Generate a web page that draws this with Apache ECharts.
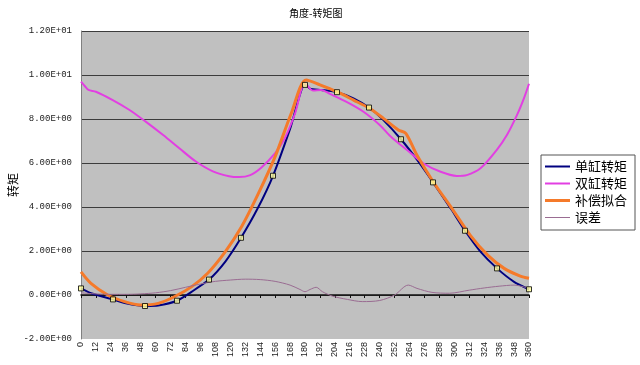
<!DOCTYPE html>
<html><head><meta charset="utf-8">
<script src="https://cdn.jsdelivr.net/npm/echarts@6/dist/echarts.min.js"></script>
<style>html,body{margin:0;padding:0;background:#fff}#c{width:640px;height:365px}</style>
</head><body><div id="c"></div>
<script>
// 单缸转矩 line (sampled along the curve)
const singleAngles = [0,8,25.7,36,51.4,62,77.1,89,102.9,116,128.6,142,154.3,168,180,184,193,205.7,219,231.4,243,257.1,270,282.9,297,308.6,321,334.3,348,360];
const singleTorque = [0.30,0.08,-0.20,-0.38,-0.50,-0.48,-0.26,0.15,0.70,1.52,2.60,3.94,5.42,7.55,9.60,9.38,9.32,9.22,8.94,8.52,7.95,7.08,6.15,5.12,3.94,2.92,1.97,1.21,0.60,0.26];
// 单缸转矩 markers
const markerAngles = [0,25.71,51.43,77.14,102.86,128.57,154.29,180,205.71,231.43,257.14,282.86,308.57,334.29,360];
const markerTorque = [0.30,-0.20,-0.50,-0.26,0.70,2.60,5.42,9.55,9.22,8.52,7.08,5.12,2.92,1.21,0.26];
// 双缸转矩
const doubleAngles = [0,3,6,12,25.5,39,52,66,79,92,106,119,127,136,145,156,164,172,180,186.6,193,200,213,227,240,248,254,262,275,289,302,310,321,334,342.5,350.5,356,360];
const doubleTorque = [9.70,9.50,9.32,9.24,8.86,8.41,7.88,7.27,6.67,6.08,5.62,5.40,5.36,5.45,5.80,6.45,7.15,8.25,9.62,9.29,9.32,9.14,8.79,8.33,7.73,7.25,6.95,6.59,5.99,5.60,5.41,5.45,5.76,6.59,7.30,8.20,8.95,9.60];
// 补偿拟合
const fitAngles = [0,8,21.5,35,48,62,75,89,102,116,129,142,156,169,181,192,205.5,219,232,243,255,261,270,283,298,313,327,340,353,360];
const fitTorque = [1.05,0.53,0.00,-0.30,-0.45,-0.38,-0.08,0.38,1.00,1.97,3.10,4.55,6.29,8.26,9.77,9.55,9.24,8.86,8.48,8.03,7.50,7.35,6.35,5.15,3.94,2.70,1.80,1.21,0.86,0.76];
// 误差
const errorAngles = [0,12,24,36,48,60,72,84,96,108,120,132,144,156,168,176,180,184,189,194,202,214,226,240,252,263,270,282,296,312,324,336,348,360];
const errorValues = [0.10,0.05,0.03,0.03,0.05,0.10,0.20,0.35,0.50,0.62,0.68,0.72,0.70,0.62,0.45,0.25,0.15,0.25,0.35,0.15,-0.05,-0.20,-0.30,-0.25,0.00,0.45,0.30,0.12,0.08,0.22,0.32,0.40,0.45,0.30];

const seriesNames = ['单缸转矩','双缸转矩','补偿拟合','误差'];
const titleText = '角度-转矩图';
const xName = '角度', yName = '转矩';
const xMin = 0, xMax = 360, xStep = 12;
const yMin = -2, yMax = 12, yStep = 2;

const zip = (a, b) => a.map((v, i) => [v, b[i]]);
function sci(v) {
  const parts = v.toExponential(2).split('e');
  const n = parseInt(parts[1], 10);
  return parts[0] + 'E' + (n < 0 ? '-' : '+') + String(Math.abs(n)).padStart(2, '0');
}
// legend line icon of a given thickness inside a 25x13 box
const lineIcon = t => 'path://M0,0M25,13M0,' + (6.5 - t / 2) + 'L25,' + (6.5 - t / 2) + 'L25,' + (6.5 + t / 2) + 'L0,' + (6.5 + t / 2) + 'Z';
const iconWidths = [2, 2, 3, 1];

const chart = echarts.init(document.getElementById('c'), null, {renderer: 'canvas'});
chart.setOption({
  animation: false,
  backgroundColor: '#fff',
  title: {text: titleText, left: 284, top: 3,
    textStyle: {fontSize: 10, fontWeight: 'normal', color: '#000', fontFamily: 'Noto Sans CJK SC'}},
  grid: {left: 81, top: 31, width: 448, height: 308, show: true, backgroundColor: '#C0C0C0', borderWidth: 0,
    containLabel: false, outerBoundsMode: 'none'},
  legend: {
    data: seriesNames.map((n, i) => ({name: n, icon: lineIcon(iconWidths[i])})),
    orient: 'vertical', left: 541, top: 155,
    backgroundColor: '#fff', borderColor: '#555', borderWidth: 1, borderRadius: 0,
    padding: [5, 8, 6, 4], itemWidth: 25, itemHeight: 13, itemGap: 4,
    textStyle: {fontSize: 13, color: '#000', fontFamily: 'Noto Sans CJK SC'}
  },
  xAxis: {
    type: 'value', min: xMin, max: xMax, interval: xStep,
    name: xName, nameLocation: 'middle', nameGap: 53, nameMoveOverlap: false,
    nameTextStyle: {fontSize: 11, color: '#000', fontFamily: 'Noto Sans CJK SC'},
    axisLine: {onZero: true, lineStyle: {color: '#111', width: 1.5}},
    axisTick: {show: true, length: 3, lineStyle: {color: '#111'}},
    axisLabel: {rotate: 90, fontSize: 9, margin: 3, color: '#222', fontFamily: 'Liberation Sans'},
    splitLine: {show: false}
  },
  yAxis: {
    type: 'value', min: yMin, max: yMax, interval: yStep,
    name: yName, nameLocation: 'middle', nameRotate: 90, nameGap: 62, nameMoveOverlap: false,
    nameTextStyle: {fontSize: 12, color: '#000', fontFamily: 'Noto Sans CJK SC'},
    axisLine: {show: true, onZero: false, lineStyle: {color: '#808080'}},
    axisTick: {show: false},
    axisLabel: {fontSize: 9, margin: 9, color: '#222', fontFamily: 'Liberation Mono', formatter: sci},
    splitLine: {show: true, showMinLine: false, lineStyle: {color: '#3c3c3c', width: 1}}
  },
  series: [
    {name: seriesNames[0], type: 'line', data: zip(singleAngles, singleTorque), smooth: 0.2,
     symbol: 'none', lineStyle: {color: '#000080', width: 2}, itemStyle: {color: '#000080'}, z: 2},
    {name: seriesNames[1], type: 'line', data: zip(doubleAngles, doubleTorque), smooth: 0.3,
     symbol: 'none', lineStyle: {color: '#E23FE2', width: 2}, itemStyle: {color: '#E23FE2'}, z: 3},
    {name: seriesNames[2], type: 'line', data: zip(fitAngles, fitTorque), smooth: 0.3,
     symbol: 'none', lineStyle: {color: '#F57A2A', width: 3}, itemStyle: {color: '#F57A2A'}, z: 4},
    {name: seriesNames[3], type: 'line', data: zip(errorAngles, errorValues), smooth: 0.3,
     symbol: 'none', lineStyle: {color: '#9A6C92', width: 1}, itemStyle: {color: '#9A6C92'}, z: 5},
    {name: 'markers', type: 'scatter', data: zip(markerAngles, markerTorque), symbol: 'rect', symbolSize: 5,
     itemStyle: {color: '#FFFF99', borderColor: '#000', borderWidth: 1}, z: 6}
  ]
});
</script></body></html>
